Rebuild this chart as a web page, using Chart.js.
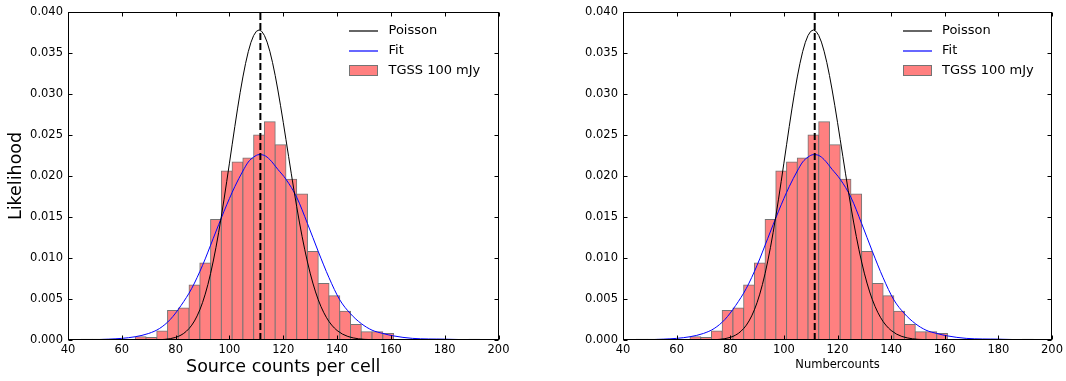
<!DOCTYPE html>
<html><head><meta charset="utf-8">
<script src="https://cdn.jsdelivr.net/npm/chart.js@4"></script>
<style>
html,body{margin:0;padding:0;background:#fff;}
#wrap{position:relative;width:1066px;height:381px;overflow:hidden;background:#fff}
canvas{position:absolute;top:0}
</style></head><body>
<div id="wrap"><canvas id="c1" width="533" height="381" style="left:0"></canvas><canvas id="c2" width="533" height="381" style="left:533px"></canvas></div>
<script>
// Histogram bins (width 4), centres and normalised heights
const binCenters = [47, 51, 55, 59, 67, 71, 75, 79, 83, 87, 91, 95, 99, 103, 107, 111, 115, 119, 123, 127, 131, 135, 139, 143, 147, 151, 155, 159, 179, 191];
const binHeights = [0.0001, 0.0001, 0.0001, 0.0001, 0.0004, 0.0003, 0.0011, 0.0036, 0.0039, 0.0067, 0.0094, 0.0147, 0.0206, 0.0217, 0.0222, 0.0250, 0.0266, 0.0238, 0.0196, 0.0178, 0.0108, 0.0069, 0.0054, 0.0035, 0.0019, 0.0010, 0.0010, 0.0008, 0.0001, 0.0001];
// Poisson curve (black)
const poissonX = [45, 60, 65, 70, 72, 74, 76, 78, 80, 81, 82, 83, 84, 85, 86, 87, 88, 89, 90, 91, 92, 93, 94, 95, 96, 97, 98, 99, 100, 101, 102, 103, 104, 105, 106, 107, 108, 109, 110, 111, 112, 113, 114, 115, 116, 117, 118, 119, 120, 121, 122, 123, 124, 125, 126, 127, 128, 129, 130, 131, 132, 133, 134, 135, 136, 137, 138, 139, 140, 142, 144, 146, 148, 150, 155, 160, 193];
const poissonY = [0, 0, 0.000001, 0.0000064, 0.0000157, 0.0000361, 0.0000787, 0.000163, 0.00032, 0.00044, 0.0006, 0.0008, 0.00107, 0.0014, 0.00181, 0.00232, 0.00294, 0.00368, 0.00456, 0.00559, 0.00677, 0.00812, 0.00963, 0.0113, 0.01313, 0.01509, 0.01717, 0.01934, 0.02156, 0.0238, 0.02602, 0.02817, 0.0302, 0.03207, 0.03373, 0.03515, 0.03629, 0.03712, 0.03763, 0.0378, 0.03763, 0.03713, 0.03632, 0.03521, 0.03385, 0.03226, 0.03048, 0.02856, 0.02654, 0.02445, 0.02235, 0.02026, 0.01822, 0.01625, 0.01438, 0.01263, 0.011, 0.00951, 0.00815, 0.00694, 0.00586, 0.00491, 0.00409, 0.00338, 0.00277, 0.00225, 0.00182, 0.00146, 0.00116, 0.00072, 0.000435, 0.000256, 0.000146, 0.000081, 0.000018, 0.000003, 0];
// Fit curve (blue)
const fitX = [45, 50, 55, 60, 65, 70, 74, 78, 82, 86, 90, 94, 98, 102, 105, 107, 109, 111, 113, 115, 118, 121, 125, 129, 133, 137, 141, 145, 149, 153, 157, 161, 168, 180, 193];
const fitY = [0.00002, 0.00004, 0.0001, 0.0002, 0.0004, 0.0008, 0.0014, 0.0025, 0.0042, 0.0063, 0.0091, 0.0124, 0.0157, 0.0187, 0.0206, 0.0217, 0.0223, 0.0226, 0.0225, 0.0220, 0.0208, 0.0196, 0.0174, 0.0142, 0.0108, 0.0076, 0.0049, 0.0032, 0.0020, 0.0012, 0.0008, 0.0005, 0.0002, 0.0001, 0];
// Mean marker
const meanX = 111.5;
const legendLabels = ['Poisson', 'Fit', 'TGSS 100 mJy'];
const xTitles = ['Source counts per cell', 'Numbercounts'];
const yTitle = 'Likelihood';

const FONT = 'DejaVu Sans';
const barFill = '#ff8080';
const barEdge = '#747474';

const framePlugin = {
  id: 'frame',
  afterDatasetsDraw(chart) {
    const {ctx, chartArea: a, scales} = chart;
    ctx.save();
    ctx.strokeStyle = '#000';
    ctx.lineWidth = 1;
    const L = Math.round(a.left) + 0.5, R = Math.round(a.right) - 0.5;
    const T = Math.round(a.top) + 0.5, B = Math.round(a.bottom) - 0.5;
    ctx.beginPath();
    scales.x.ticks.forEach(t => {
      const x = Math.round(scales.x.getPixelForValue(t.value)) + 0.5;
      ctx.moveTo(x, B); ctx.lineTo(x, B - 4);
      ctx.moveTo(x, T); ctx.lineTo(x, T + 4);
    });
    scales.y.ticks.forEach(t => {
      const y = Math.round(scales.y.getPixelForValue(t.value)) + 0.5;
      ctx.moveTo(L, y); ctx.lineTo(L + 4, y);
      ctx.moveTo(R, y); ctx.lineTo(R - 4, y);
    });
    ctx.stroke();
    ctx.strokeRect(L, T, R - L, B - T);
    ctx.restore();
    // legend
    ctx.save();
    const lx = Math.round(a.right - 149.5), tx = a.right - 110, y0 = a.top + 19;
    ctx.font = '13px "' + FONT + '"';
    ctx.textBaseline = 'middle';
    ctx.textAlign = 'left';
    const cols = ['rgb(0,0,0)', 'rgb(0,0,255)'];
    for (let i = 0; i < 2; i++) {
      const y = Math.round(y0 + i * 20);
      ctx.lineWidth = 1.2;
      ctx.strokeStyle = cols[i];
      ctx.beginPath();
      ctx.moveTo(lx, y); ctx.lineTo(lx + 29, y);
      ctx.stroke();
      ctx.fillStyle = '#000';
      ctx.fillText(legendLabels[i], tx, y0 + i * 20);
    }
    const py = Math.round(y0 + 40 - 5.5);
    ctx.fillStyle = barFill;
    ctx.fillRect(lx, py, 29, 11);
    ctx.strokeStyle = barEdge;
    ctx.lineWidth = 1;
    ctx.strokeRect(lx + 0.5, py + 0.5, 28, 10);
    ctx.fillStyle = '#000';
    ctx.fillText(legendLabels[2], tx, y0 + 40);
    ctx.restore();
  }
};

function makeChart(id, opt) {
  const bars = binCenters.map((c, i) => ({x: c, y: binHeights[i]}));
  const pois = poissonX.map((x, i) => ({x, y: poissonY[i]}));
  const fit = fitX.map((x, i) => ({x, y: fitY[i]}));
  return new Chart(document.getElementById(id), {
    type: 'bar',
    data: {
      datasets: [
        {type: 'line', data: [{x: meanX, y: 0}, {x: meanX, y: 0.04}], borderColor: '#000', borderWidth: 2, borderDash: [7, 3], pointRadius: 0, order: 0},
        {type: 'line', data: pois, borderColor: '#000', borderWidth: 1, pointRadius: 0, order: 1},
        {type: 'line', data: fit, borderColor: '#0000ff', borderWidth: 1, pointRadius: 0, cubicInterpolationMode: 'monotone', order: 2},
        {type: 'bar', data: bars, backgroundColor: barFill, borderColor: barEdge, borderWidth: 1, borderSkipped: 'start', barPercentage: 1, categoryPercentage: 1, inflateAmount: 0.5, order: 3}
      ]
    },
    options: {
      responsive: false, animation: false, events: [],
      layout: {padding: {left: 0, right: opt.padRight, top: 6, bottom: 0}},
      plugins: {legend: {display: false}, tooltip: {enabled: false}},
      scales: {
        x: {
          type: 'linear', min: 40, max: 200, offset: false,
          afterFit: s => { s.height = 41; },
          grid: {display: false, drawTicks: false}, border: {display: false},
          ticks: {stepSize: 20, padding: 3, color: '#000', maxRotation: 0, autoSkip: false, font: {family: FONT, size: 11.5}},
          title: {display: true, text: opt.xTitle, color: '#000', font: {family: FONT, size: opt.xTitleSize}, padding: {top: 0, bottom: opt.xTitlePad}}
        },
        y: {
          type: 'linear', min: 0, max: 0.04, offset: false,
          afterFit: s => { s.width = opt.yWidth; },
          grid: {display: false, drawTicks: false}, border: {display: false},
          ticks: {stepSize: 0.005, padding: 5, color: '#000', font: {family: FONT, size: 11.5}, callback: v => v.toFixed(3)},
          title: {display: opt.showY, text: yTitle, color: '#000', font: {family: FONT, size: 17.5}, padding: {top: 5.5, bottom: 0}}
        }
      }
    },
    plugins: [framePlugin]
  });
}

makeChart('c1', {padRight: 34.5, yWidth: 68, xTitle: xTitles[0], xTitleSize: 17.5, xTitlePad: 3.5, showY: true});
makeChart('c2', {padRight: 12, yWidth: 90, xTitle: xTitles[1], xTitleSize: 11.5, xTitlePad: 9.4, showY: false});
</script>
</body></html>
